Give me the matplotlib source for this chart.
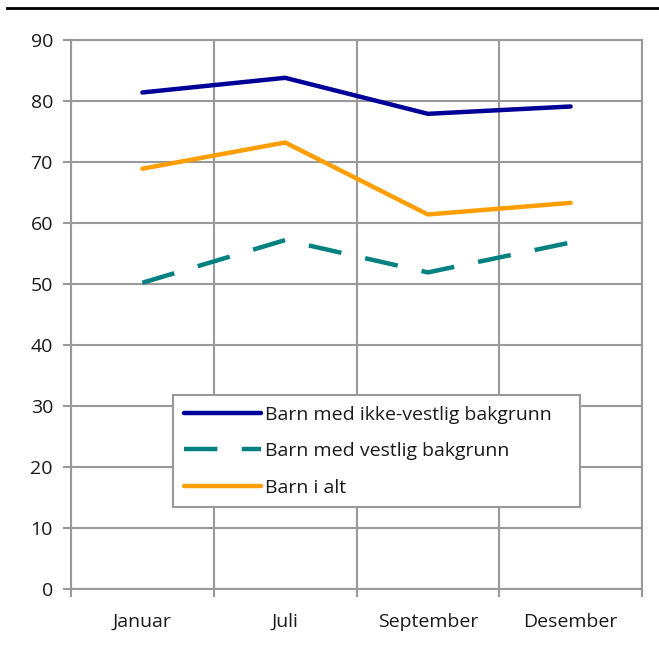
import matplotlib
matplotlib.use("Agg")
import matplotlib.pyplot as plt
from matplotlib.lines import Line2D

plt.rcParams['font.family'] = ['Open Sans', 'DejaVu Sans']

categories = ["Januar", "Juli", "September", "Desember"]
ikke_vestlig = [81.4, 83.8, 77.9, 79.1]
vestlig = [50.2, 57.2, 51.9, 56.8]
i_alt = [68.9, 73.2, 61.4, 63.3]
series_labels = ["Barn med ikke-vestlig bakgrunn", "Barn med vestlig bakgrunn", "Barn i alt"]
yticks = [0, 10, 20, 30, 40, 50, 60, 70, 80, 90]

W, H = 659, 648
fig = plt.figure(figsize=(W / 100, H / 100), dpi=100)
ax = fig.add_axes([71 / W, 1 - 589 / H, (642 - 71) / W, (589 - 40) / H])

grid_c = "#999999"
text_c = "#1a1a1a"
x = [i + 0.5 for i in range(len(categories))]

ax.plot(x, ikke_vestlig, color="#000099", lw=3.2, solid_capstyle="round", label=series_labels[0], zorder=3)
ax.plot(x, vestlig, color="#008080", lw=3.2, dashes=(7.5, 5.5), label=series_labels[1], zorder=3)
ax.plot(x, i_alt, color="#FF9E00", lw=3.2, solid_capstyle="round", label=series_labels[2], zorder=3)

ax.set_xlim(0, len(categories))
ax.set_ylim(0, 90)
ax.set_yticks(yticks)
ax.set_xticks(x)
ax.set_xticklabels(categories)
ax.set_xticks(range(len(categories) + 1), minor=True)

ax.tick_params(axis="x", which="major", length=0, pad=17, labelsize=14, colors=text_c)
ax.tick_params(axis="x", which="minor", length=6, width=1.5, color=grid_c, direction="out")
ax.tick_params(axis="y", length=6, width=1.5, color=grid_c, labelsize=14, labelcolor=text_c, pad=7)

ax.grid(True, axis="y", which="major", color=grid_c, lw=1.5)
ax.grid(True, axis="x", which="minor", color=grid_c, lw=1.5)
ax.grid(False, axis="x", which="major")
for s in ax.spines.values():
    s.set_color(grid_c)
    s.set_linewidth(1.5)
ax.set_axisbelow(True)

leg_x0 = (173 - 71) / 571
leg_w = (580 - 173) / 571
leg_top = (589 - 395) / 549
leg = ax.legend(loc="upper left", bbox_to_anchor=(leg_x0, leg_top - 0.2, leg_w, 0.2),
                mode="expand", borderaxespad=0, fontsize=14, handlelength=4.0, handletextpad=0.2,
                fancybox=False, framealpha=1, edgecolor=grid_c, borderpad=0.55,
                labelspacing=0.95)
leg.get_frame().set_linewidth(1.5)
for t in leg.get_texts():
    t.set_color(text_c)

fig.add_artist(Line2D([7 / W, 1], [1 - 8 / H, 1 - 8 / H], color="black", lw=2.0))

fig.savefig("out.png", dpi=100)
